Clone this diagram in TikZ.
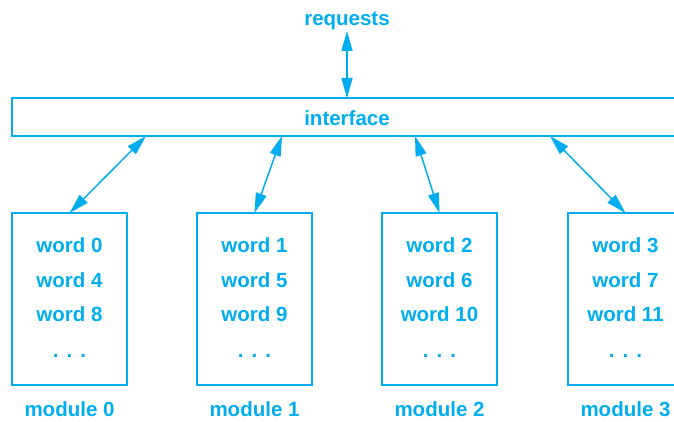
\documentclass[tikz,border=0pt]{standalone}
\usepackage{fontspec}
\setmainfont{Liberation Sans}
\usetikzlibrary{arrows.meta}
\definecolor{cy}{RGB}{0,174,239}
\begin{document}
\begin{tikzpicture}[x=1pt,y=-1pt,
  lbl/.style={text=cy,font=\fontsize{20.5}{24}\selectfont\bfseries,inner sep=0pt,anchor=base},
  boxs/.style={draw=cy,line width=1.4pt},
  conn/.style={draw=cy,line width=1.5pt,{Triangle[length=20pt,width=11pt]}-{Triangle[length=20pt,width=11pt]}}]
\useasboundingbox (0,0) rectangle (674,422);
\clip (0,0) rectangle (674,422);
\node[lbl] (req) at (347,26) {requests};
\draw[boxs] (12,98) rectangle (682,136);
\node[lbl] (iface) at (347,125.5) {interface};
\coordinate (ibot) at (347,98);
\coordinate (rbot) at (347,31);
\draw[conn] (rbot) -- (ibot);
% modules
\foreach \i/\x/\a/\b/\c/\t in {0/12/0/4/8/146, 1/197/1/5/9/282, 2/382/2/6/10/415, 3/568/3/7/11/550}{
  \draw[boxs] (\x,213) rectangle ++(115,172);
  \coordinate (m\i top) at (\x+57.5,213);
  \coordinate (i\i) at (\t,136);
  \node[lbl] (w\a) at (\x+57.5,252.5) {word \a};
  \node[lbl] (w\b) at (\x+57.5,287) {word \b};
  \node[lbl] (w\c) at (\x+57.5,321) {word \c};
  \node[lbl] (d\i) at (\x+57.5,357) {.\hspace{8pt}.\hspace{8pt}.};
  \node[lbl] (mod\i) at (\x+57.5,416.5) {module \i};
  \draw[conn] (i\i) -- (m\i top);
}
\end{tikzpicture}
\end{document}
